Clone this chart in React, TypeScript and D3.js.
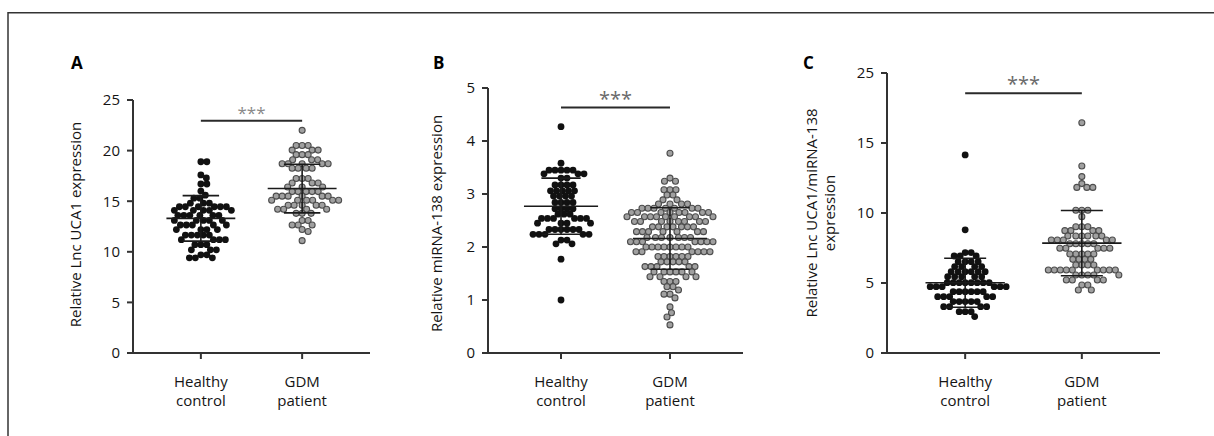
import React, { useMemo } from 'react';
import * as d3 from 'd3';

// groups on the x axis
const categories = ['Healthy control', 'GDM patient'];

// panel A - Relative Lnc UCA1 expression
const uca1Healthy = [
  18.9, 18.9, 17.6, 17.3, 16.7, 16.7, 16.0, 15.6, 15.3, 15.3,
  14.8, 14.8, 14.8, 14.45, 14.45, 14.45, 14.45, 14.45, 14.45,
  14.1, 14.1, 14.1, 14.1, 14.1, 13.6, 13.6, 13.6, 13.6, 13.6, 13.6,
  13.1, 13.1, 13.1, 13.1, 13.1, 12.65, 12.65, 12.65, 12.65, 12.65,
  12.2, 12.2, 12.2, 12.2, 11.65, 11.65, 11.65, 11.65, 11.65,
  11.2, 11.2, 11.2, 11.2, 10.7, 10.7, 10.7, 10.2, 10.2, 10.2,
  9.7, 9.7, 9.4, 9.4, 9.4
];
const uca1Gdm = [
  22.0, 20.5, 20.5, 20.5, 20.05, 20.05, 20.05, 19.6, 19.6, 19.6,
  19.1, 19.1, 19.1, 18.7, 18.7, 18.7, 18.7, 18.7, 18.25, 18.25, 18.25, 18.25,
  17.25, 17.25, 17.25, 16.8, 16.8, 16.8, 16.4, 16.4, 16.4,
  15.95, 15.95, 15.95, 15.95, 15.95, 15.5, 15.5, 15.5, 15.5, 15.5, 15.5,
  15.1, 15.1, 15.1, 15.1, 15.1, 15.1, 14.6, 14.6, 14.6, 14.6, 14.6,
  14.2, 14.2, 14.2, 14.2, 13.8, 13.8, 13.8, 13.1, 13.1,
  12.65, 12.65, 12.65, 12.2, 12.0, 11.1
];

// panel B - Relative miRNA-138 expression
const mirHealthy = [
  4.27, 3.58, 3.45, 3.45, 3.45, 3.45, 3.45, 3.38, 3.38, 3.38, 3.3, 3.3,
  3.17, 3.17, 3.17, 3.17, 3.06, 3.06, 3.06, 3.06, 3.06,
  2.96, 2.96, 2.96, 2.96, 2.84, 2.84, 2.84, 2.84, 2.72, 2.72, 2.72, 2.72,
  2.62, 2.62, 2.62, 2.54, 2.54, 2.54, 2.54, 2.54, 2.54,
  2.45, 2.45, 2.45, 2.45, 2.33, 2.33, 2.33, 2.33, 2.33, 2.33,
  2.24, 2.24, 2.24, 2.24, 2.24, 2.13, 2.13, 2.06, 2.06, 1.77, 1.0
];
const mirGdm = [
  3.77, 3.3, 3.24, 3.24, 3.08, 3.08, 3.08, 2.98, 2.98, 2.89, 2.89,
  2.81, 2.81, 2.81, 2.81, 2.73, 2.73, 2.73, 2.73, 2.73, 2.73, 2.73,
  2.65, 2.65, 2.65, 2.65, 2.65, 2.65, 2.65, 2.65,
  2.57, 2.57, 2.57, 2.57, 2.57, 2.57, 2.57, 2.57, 2.57,
  2.48, 2.48, 2.48, 2.48, 2.48, 2.48, 2.48, 2.48,
  2.38, 2.38, 2.38, 2.38, 2.38, 2.38, 2.38,
  2.29, 2.29, 2.29, 2.29, 2.29, 2.29, 2.29,
  2.18, 2.18, 2.18, 2.18, 2.18, 2.18, 2.18,
  2.1, 2.1, 2.1, 2.1, 2.1, 2.1, 2.1,
  2.0, 2.0, 2.0, 2.0, 2.0, 2.0, 2.0, 2.0,
  1.91, 1.91, 1.91, 1.91, 1.91, 1.91, 1.82, 1.82, 1.82, 1.82, 1.82, 1.82,
  1.72, 1.72, 1.72, 1.72, 1.72, 1.63, 1.63, 1.63, 1.63, 1.63,
  1.53, 1.53, 1.53, 1.53, 1.53, 1.53, 1.44, 1.44, 1.44, 1.44,
  1.35, 1.35, 1.35, 1.25, 1.25, 1.19, 1.11, 1.11, 1.04, 0.87, 0.76, 0.68, 0.53
];

// panel C - Relative Lnc UCA1/miRNA-138 expression
const ratioHealthy = [
  14.15, 8.8, 7.17, 7.17, 6.93, 6.93, 6.93, 6.52, 6.52, 6.52, 6.52,
  6.17, 6.17, 6.17, 6.17, 5.81, 5.81, 5.81, 5.81, 5.81, 5.81,
  5.45, 5.45, 5.45, 5.45, 5.45, 5.02, 5.02, 5.02, 5.02, 5.02, 5.02, 5.02, 5.02,
  4.74, 4.74, 4.74, 4.74, 4.74, 4.74, 4.38, 4.38, 4.38, 4.38, 4.38, 4.38,
  4.02, 4.02, 4.02, 4.02, 4.02, 3.67, 3.67, 3.67, 3.67, 3.67,
  3.31, 3.31, 3.31, 3.31, 2.95, 2.95, 2.95, 2.6
];
const ratioGdm = [
  16.45, 13.36, 12.6, 12.1, 11.83, 11.83, 11.83, 10.2, 10.2, 10.2, 9.74,
  9.02, 9.02, 9.02, 8.74, 8.74, 8.74, 8.74, 8.36, 8.36, 8.36, 8.36, 8.36, 8.36,
  8.07, 8.07, 8.07, 8.07, 8.07, 7.8, 7.8, 7.8, 7.8, 7.8, 7.48, 7.48, 7.48, 7.48, 7.48,
  7.07, 7.07, 7.07, 7.07, 7.07, 6.69, 6.69, 6.69, 6.69, 6.29, 6.29, 6.29, 6.29,
  5.93, 5.93, 5.93, 5.93, 5.93, 5.93, 5.93, 5.93, 5.93,
  5.57, 5.57, 5.57, 5.57, 5.57, 5.21, 5.21, 5.21, 5.21, 4.86, 4.86, 4.5, 4.5
];

// mean and SD
const uca1Mean = [13.3, 16.25];
const uca1Sd = [2.25, 2.4];
const mirMean = [2.77, 2.16];
const mirSd = [0.53, 0.58];
const ratioMean = [5.02, 7.85];
const ratioSd = [1.75, 2.33];

// y value of the significance bar
const sigLevel = [22.95, 4.63, 18.55];

// y ticks
const uca1Ticks = [0, 5, 10, 15, 20, 25];
const mirTicks = [0, 1, 2, 3, 4, 5];
const ratioTicks = [0, 5, 10, 15, 20];
const ratioTickLabels = ['0', '5', '10', '15', '25'];

const FONT = '"Open Sans", "Noto Sans", sans-serif';
const INK = '#151515';

function swarm(values: number[], y: (v: number) => number, cx: number, r: number) {
  const order = d3.range(values.length).sort((a, b) => values[b] - values[a]);
  const placed: { x: number; y: number }[] = [];
  const dd = (r * 2 * 0.88) ** 2;
  for (const i of order) {
    const py = y(values[i]);
    for (let k = 0; k < 800; k++) {
      const off = k === 0 ? 0 : (k % 2 === 1 ? 1 : -1) * Math.ceil(k / 2) * 0.5;
      const px = cx + off;
      let hit = false;
      for (const q of placed) {
        const dx = q.x - px, dy = q.y - py;
        if (dx * dx + dy * dy < dd) { hit = true; break; }
      }
      if (!hit) { placed.push({ x: px, y: py }); break; }
    }
  }
  return placed;
}

type PanelProps = {
  letter: string;
  letterX: number;
  x0: number;
  x1: number;
  top: number;
  max: number;
  ticks: number[];
  tickLabels?: string[];
  label: string[];
  labelX: number;
  labelY: number;
  groups: number[][];
  means: number[];
  sds: number[];
  sig: number;
  starSize: number;
  starColor: string;
};

const BOTTOM = 353;

function Panel(p: PanelProps) {
  const y = d3.scaleLinear().domain([0, p.max]).range([BOTTOM, p.top]);
  const x = d3.scalePoint().domain(categories).range([p.x0, p.x1]).padding(0.67);
  const step = x.step();
  const pts = useMemo(
    () => p.groups.map((g, i) => swarm(g, y, x(categories[i])!, 3.4)),
    [p.groups]
  );
  const meanW = step * 0.34;
  const capW = step * 0.18;
  const c0 = x(categories[0])!;
  const c1 = x(categories[1])!;
  return (
    <g fontFamily={FONT}>
      <text x={p.letterX} y={69} fontSize={17} fontWeight="bold" fill="#000">{p.letter}</text>
      {/* y axis label */}
      {p.label.map((l, i) => (
        <text key={l} transform={`translate(${p.labelX + i * 18},${p.labelY}) rotate(-90)`}
          textAnchor="middle" fontSize={15} fill={INK}>{l}</text>
      ))}
      {/* dots */}
      {pts.map((g, gi) => g.map((d, i) => (
        gi === 0
          ? <circle key={`${gi}-${i}`} cx={d.x} cy={d.y} r={3.4} fill="#111" />
          : <circle key={`${gi}-${i}`} cx={d.x} cy={d.y} r={3.0} fill="#a0a0a0" stroke="#4d4d4d" strokeWidth={1.1} />
      )))}
      {/* mean +- SD */}
      {p.means.map((m, i) => {
        const cx = x(categories[i])!;
        const hi = y(m + p.sds[i]);
        const lo = y(m - p.sds[i]);
        return (
          <g key={i} stroke="#1a1a1a" strokeWidth={1.6}>
            <line x1={cx - meanW} x2={cx + meanW} y1={y(m)} y2={y(m)} />
            <line x1={cx} x2={cx} y1={hi} y2={lo} />
            <line x1={cx - capW} x2={cx + capW} y1={hi} y2={hi} />
            <line x1={cx - capW} x2={cx + capW} y1={lo} y2={lo} />
          </g>
        );
      })}
      {/* axes */}
      <g stroke="#333" strokeWidth={2}>
        <line x1={p.x0} x2={p.x0} y1={p.top} y2={BOTTOM} />
        <line x1={p.x0 - 6} x2={p.x1} y1={BOTTOM} y2={BOTTOM} />
        {p.ticks.map(t => (
          <line key={t} x1={p.x0 - 6} x2={p.x0} y1={y(t)} y2={y(t)} />
        ))}
        {categories.map(c => (
          <line key={c} x1={x(c)!} x2={x(c)!} y1={BOTTOM} y2={BOTTOM + 6} />
        ))}
      </g>
      {p.ticks.map((t, i) => (
        <text key={t} x={p.x0 - 13} y={y(t)} dy="0.36em" textAnchor="end" fontSize={15} fill={INK}>
          {p.tickLabels ? p.tickLabels[i] : String(t)}
        </text>
      ))}
      {categories.map(c => (
        <text key={c} x={x(c)!} textAnchor="middle" fontSize={15} fill={INK}>
          {c.split(' ').map((w, i) => (
            <tspan key={w} x={x(c)!} y={387 + i * 18.5}>{w}</tspan>
          ))}
        </text>
      ))}
      {/* significance */}
      <line x1={c0} x2={c1} y1={y(p.sig)} y2={y(p.sig)} stroke="#2a2a2a" strokeWidth={2} />
      <text x={(c0 + c1) / 2} y={y(p.sig) - 2} textAnchor="middle" fontSize={p.starSize} fill={p.starColor}>***</text>
    </g>
  );
}

export default function App() {
  return (
    <svg width={1214} height={436} style={{ position: 'absolute', left: 0, top: 0, background: '#fff' }}>
      <line x1={8} x2={1214} y1={12.7} y2={12.7} stroke="#333" strokeWidth={1.5} />
      <line x1={8} x2={8} y1={12} y2={436} stroke="#333" strokeWidth={1.5} />
      <Panel letter="A" letterX={71} x0={133} x1={370} top={100} max={25} ticks={uca1Ticks}
        label={['Relative Lnc UCA1 expression']} labelX={81} labelY={224.5}
        groups={[uca1Healthy, uca1Gdm]} means={uca1Mean} sds={uca1Sd} sig={sigLevel[0]}
        starSize={17} starColor="#8a8a8a" />
      <Panel letter="B" letterX={433} x0={488} x1={743} top={88} max={5} ticks={mirTicks}
        label={['Relative miRNA-138 expression']} labelX={442} labelY={223.5}
        groups={[mirHealthy, mirGdm]} means={mirMean} sds={mirSd} sig={sigLevel[1]}
        starSize={20} starColor="#6a6a6a" />
      <Panel letter="C" letterX={803} x0={887} x1={1160} top={73} max={20} ticks={ratioTicks}
        tickLabels={ratioTickLabels}
        label={['Relative Lnc UCA1/miRNA-138', 'expression']} labelX={817} labelY={213}
        groups={[ratioHealthy, ratioGdm]} means={ratioMean} sds={ratioSd} sig={sigLevel[2]}
        starSize={20} starColor="#6a6a6a" />
    </svg>
  );
}
